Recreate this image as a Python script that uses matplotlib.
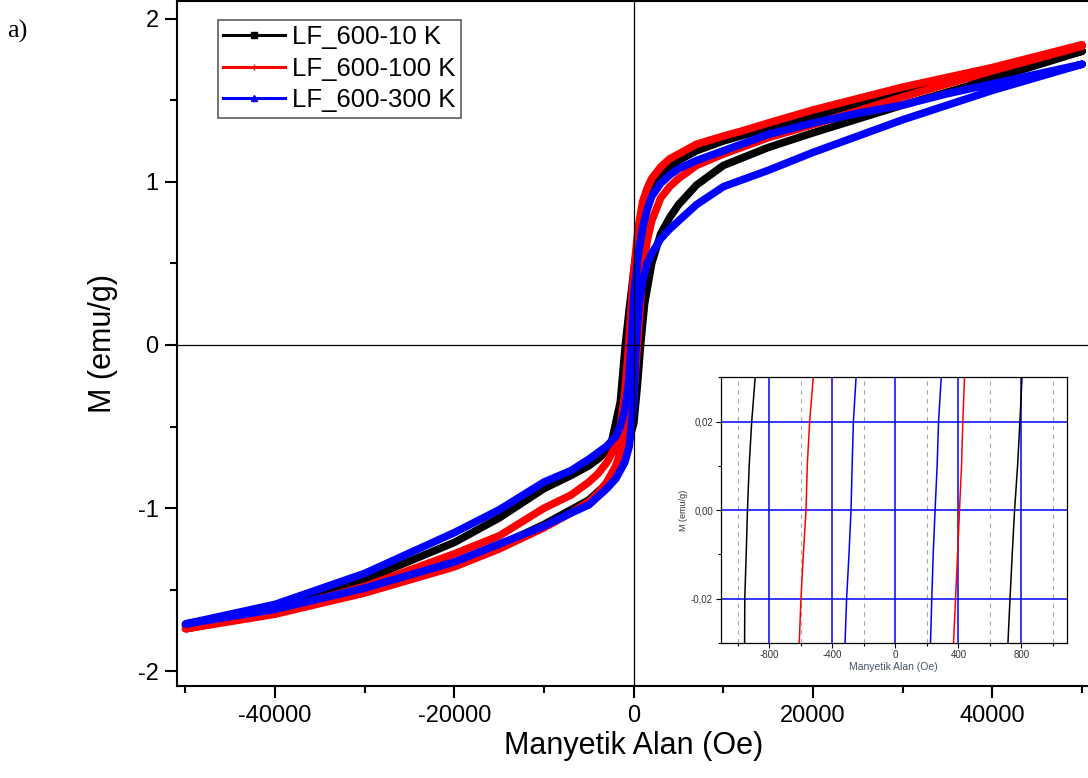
import matplotlib
matplotlib.use('Agg')
import matplotlib.pyplot as plt
from matplotlib.lines import Line2D
from matplotlib.ticker import MultipleLocator, FuncFormatter

plt.rcParams['font.family'] = ['Liberation Sans', 'DejaVu Sans']
plt.rcParams['axes.unicode_minus'] = False

# series names
labels = ['LF_600-10 K', 'LF_600-100 K', 'LF_600-300 K']

# descending branch (field swept +50 kOe -> -50 kOe), H in Oe, M in emu/g
h_down_10 = [50000, 40000, 35000, 30000, 25000, 20000, 15000, 10000, 7000, 5000, 4000, 3000, 2000, 1500,
             1000, 500, 0, -500, -940, -1500, -2500, -3000, -4000, -5000, -7000, -10000, -15000,
             -20000, -30000, -40000, -50000]
m_down_10 = [1.80, 1.67, 1.61, 1.55, 1.48, 1.40, 1.33, 1.25, 1.19, 1.13, 1.09, 1.04, 0.96, 0.88,
             0.78, 0.65, 0.45, 0.22, 0.0, -0.35, -0.60, -0.65, -0.70, -0.74, -0.80, -0.88, -1.06,
             -1.21, -1.44, -1.61, -1.72]

h_down_100 = [50000, 40000, 35000, 30000, 25000, 20000, 15000, 12000, 10000, 7000, 5000, 4000, 3000,
              2000, 1500, 1000, 500, 0, -300, -570, -1000, -1500, -2000, -3000, -4000, -5000, -7000,
              -10000, -15000, -20000, -30000, -40000, -50000]
m_down_100 = [1.84, 1.70, 1.64, 1.58, 1.51, 1.44, 1.36, 1.31, 1.28, 1.23, 1.17, 1.14, 1.09,
              1.02, 0.96, 0.88, 0.72, 0.45, 0.22, 0.0, -0.30, -0.50, -0.62, -0.72, -0.79, -0.84, -0.92,
              -1.00, -1.17, -1.28, -1.48, -1.63, -1.74]

h_down_300 = [50000, 40000, 35000, 30000, 25000, 20000, 15000, 10000, 7000, 5000, 4000, 3000, 2000,
              1500, 1000, 500, 0, -280, -600, -1000, -1500, -2000, -3000, -4000, -5000, -7000, -10000,
              -15000, -20000, -30000, -40000, -50000]
m_down_300 = [1.72, 1.60, 1.54, 1.47, 1.42, 1.36, 1.29, 1.19, 1.13, 1.08, 1.04, 0.99, 0.91,
              0.83, 0.72, 0.55, 0.30, 0.0, -0.25, -0.40, -0.50, -0.56, -0.62, -0.66, -0.70, -0.77, -0.84,
              -1.01, -1.15, -1.40, -1.59, -1.71]

# ascending branch (field swept -50 kOe -> +50 kOe)
h_up_10 = [-50000, -40000, -30000, -20000, -15000, -10000, -7000, -5000, -4000, -3000, -2000, -1500,
           -1000, -500, 0, 400, 760, 1200, 2000, 3000, 4000, 5000, 7000, 10000, 15000, 20000, 30000,
           40000, 50000]
m_up_10 = [-1.72, -1.63, -1.50, -1.34, -1.23, -1.10, -1.01, -0.95, -0.90, -0.85, -0.77, -0.72,
           -0.65, -0.58, -0.48, -0.25, 0.0, 0.25, 0.50, 0.68, 0.78, 0.86, 0.98, 1.10, 1.21, 1.30, 1.47,
           1.63, 1.80]

h_up_100 = [-50000, -40000, -30000, -20000, -15000, -10000, -7000, -5000, -4000, -3000, -2000, -1500,
            -1000, -500, 0, 410, 1000, 1500, 2000, 3000, 4000, 5000, 7000, 10000, 15000, 20000, 30000,
            40000, 50000]
m_up_100 = [-1.74, -1.65, -1.52, -1.36, -1.25, -1.12, -1.03, -0.96, -0.91, -0.84, -0.74, -0.66,
            -0.55, -0.42, -0.30, 0.0, 0.45, 0.64, 0.76, 0.90, 0.97, 1.02, 1.10, 1.17, 1.27, 1.35, 1.52,
            1.68, 1.83]

h_up_300 = [-50000, -40000, -30000, -20000, -15000, -10000, -7000, -5000, -4000, -3000, -2000, -1500,
            -1000, -500, 0, 250, 600, 1000, 1500, 2000, 3000, 4000, 5000, 7000, 10000, 15000, 20000,
            30000, 40000, 50000]
m_up_300 = [-1.71, -1.62, -1.49, -1.33, -1.22, -1.11, -1.03, -0.98, -0.93, -0.88, -0.82, -0.77,
            -0.72, -0.62, -0.35, 0.0, 0.25, 0.40, 0.50, 0.56, 0.65, 0.71, 0.76, 0.86, 0.97, 1.07, 1.18,
            1.38, 1.56, 1.72]

# inset: field (Oe) where each branch crosses these M values
m_zoom = [-0.03, -0.02, -0.01, 0.0, 0.01, 0.02, 0.03]
h_zoom_10_left = [-958, -957, -948, -940, -929, -913, -891]
h_zoom_10_right = [715, 728, 742, 757, 776, 791, 804]
h_zoom_100_left = [-611, -600, -585, -568, -560, -545, -522]
h_zoom_100_right = [369, 382, 395, 407, 420, 428, 439]
h_zoom_300_left = [-320, -310, -295, -282, -275, -267, -250]
h_zoom_300_right = [223, 231, 240, 252, 265, 274, 291]

colors = ['black', 'red', 'blue']
markers = ['s', '|', '^']

fig = plt.figure(figsize=(10.88, 7.78), dpi=100)
ax = fig.add_axes([0.1630, 0.1183, 0.8390, 0.8805])

loops = [
    (h_down_10, m_down_10, h_up_10, m_up_10),
    (h_down_100, m_down_100, h_up_100, m_up_100),
    (h_down_300, m_down_300, h_up_300, m_up_300),
]
for (hd, md, hu, mu), c in zip(loops, colors):
    ax.plot(hd + hu, md + mu, color=c, lw=5.5, solid_joinstyle='round',
            solid_capstyle='round', zorder=2)

ax.axhline(0, color='black', lw=0.9, zorder=4)
ax.axvline(0, color='black', lw=0.9, zorder=4)

ax.set_xlim(-50900, 50900)
ax.set_ylim(-2.09, 2.108)
ax.xaxis.set_major_locator(MultipleLocator(20000))
ax.xaxis.set_minor_locator(MultipleLocator(10000))
ax.yaxis.set_major_locator(MultipleLocator(1))
ax.yaxis.set_minor_locator(MultipleLocator(0.5))
ax.tick_params(which='major', direction='out', length=8.5, width=1.5, labelsize=17, pad=5)
ax.tick_params(which='minor', direction='out', length=5, width=1.5)
for s in ax.spines.values():
    s.set_linewidth(1.5)
ax.set_xlabel('Manyetik Alan (Oe)', fontsize=22, labelpad=3)
ax.set_ylabel('M (emu/g)', fontsize=22, labelpad=14)

handles = [Line2D([0, 1, 2], [0, 0, 0], color=c, lw=2.2, marker=mk, markersize=4, markevery=[1])
           for c, mk in zip(colors, markers)]
leg = ax.legend(handles, labels, loc='upper left', bbox_to_anchor=(0.0443, 0.9723),
                borderaxespad=0, fontsize=18.5, frameon=True, fancybox=False,
                handlelength=2.4, handletextpad=0.3, labelspacing=0.3, borderpad=0.2)
leg.get_frame().set_edgecolor('#333333')
leg.get_frame().set_linewidth(1.2)

fig.text(0.007, 0.975, 'a)', fontsize=19, family='Liberation Serif', va='top')

# inset
ins = fig.add_axes([0.6624, 0.1739, 0.3183, 0.3409])
ins.set_axisbelow(True)
zoom_lines = [
    (h_zoom_10_left, h_zoom_10_right),
    (h_zoom_100_left, h_zoom_100_right),
    (h_zoom_300_left, h_zoom_300_right),
]
for (hl, hr), c in zip(zoom_lines, colors):
    ins.plot(hl, m_zoom, color=c, lw=1.1)
    ins.plot(hr, m_zoom, color=c, lw=1.1)
ins.set_xlim(-1110, 1090)
ins.set_ylim(-0.03, 0.03)
ins.xaxis.set_major_locator(MultipleLocator(400))
ins.xaxis.set_minor_locator(MultipleLocator(200))
ins.yaxis.set_major_locator(MultipleLocator(0.02))
ins.yaxis.set_minor_locator(MultipleLocator(0.01))
ins.yaxis.set_major_formatter(FuncFormatter(lambda v, p: f'{v:.2f}'.replace('.', ',')))
ins.grid(which='major', color='blue', lw=1.1)
ins.grid(which='minor', axis='x', color='#aaaaaa', lw=0.8, ls=(0, (4, 4)))
ins.tick_params(which='major', direction='out', length=3.5, width=0.8, labelsize=7, pad=2,
                labelcolor='#333333')
ins.tick_params(which='minor', direction='out', length=2, width=0.8)
for s in ins.spines.values():
    s.set_linewidth(0.9)
ins.set_xlabel('Manyetik Alan (Oe)', fontsize=7.5, labelpad=1, color='#445566')
ins.set_ylabel('M (emu/g)', fontsize=6.5, labelpad=2, color='#333333')

fig.savefig('out.png', dpi=100)
